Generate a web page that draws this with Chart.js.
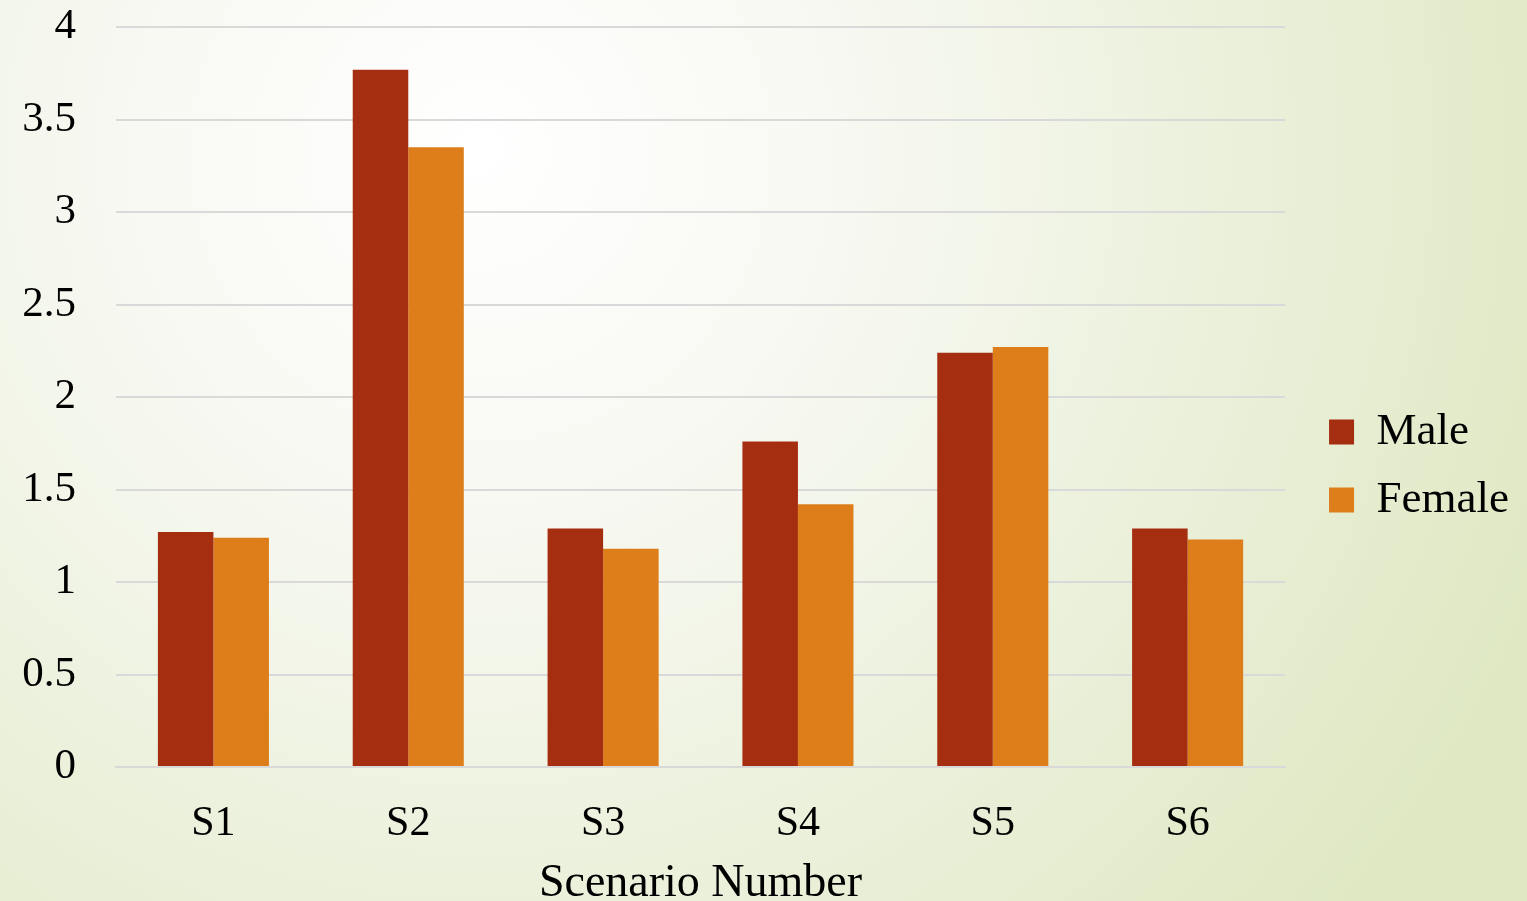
<!DOCTYPE html>
<html>
<head>
<meta charset="utf-8">
<script src="https://cdn.jsdelivr.net/npm/chart.js@4.4.0/dist/chart.umd.min.js"></script>
<style>
html,body{margin:0;padding:0;overflow:hidden;background:#fff;}
#wrap{width:1527px;height:927px;}
</style>
</head>
<body>
<div id="wrap"><canvas id="c" width="1527" height="927"></canvas></div>
<script>
const categories = ["S1","S2","S3","S4","S5","S6"];
const maleValues = [1.27, 3.77, 1.29, 1.76, 2.24, 1.29];
const femaleValues = [1.24, 3.35, 1.18, 1.42, 2.27, 1.23];
const seriesNames = ["Male","Female"];
const xTitle = "Scenario Number";

const FONT = "'Liberation Serif', 'DejaVu Serif', serif";

const bgPlugin = {
  id: 'bg',
  beforeDraw(chart){
    const ctx = chart.ctx;
    const w = chart.width, h = chart.height;
    ctx.save();
    const g = ctx.createRadialGradient(480, 150, 0, 480, 150, 1150);
    g.addColorStop(0, '#ffffff');
    g.addColorStop(0.35, '#f6f8f0');
    g.addColorStop(1, '#dfe8c3');
    ctx.fillStyle = g;
    ctx.fillRect(0,0,w,h);
    ctx.restore();
  }
};

new Chart(document.getElementById('c'), {
  type: 'bar',
  data: {
    labels: categories,
    datasets: [
      {label: seriesNames[0], data: maleValues, backgroundColor: '#a52e10', yAxisID: 'y'},
      {label: seriesNames[1], data: femaleValues, backgroundColor: '#dd7e1a', yAxisID: 'y'}
    ]
  },
  options: {
    responsive: false,
    animation: false,
    layout: {padding: {top: 5, right: 8, left: 0, bottom: 0}},
    datasets: {bar: {categoryPercentage: 0.57, barPercentage: 1.0}},
    plugins: {
      legend: {
        position: 'right',
        labels: {
          font: {family: FONT, size: 45},
          color: '#000',
          boxWidth: 25, boxHeight: 25,
          padding: 23
        }
      },
      tooltip: {enabled: false}
    },
    scales: {
      x: {
        grid: {display: false, drawTicks: false},
        border: {display: true, color: '#d9d9d9', width: 2},
        ticks: {font: {family: FONT, size: 42}, color: '#000', padding: 32},
        title: {display: true, text: xTitle, font: {family: FONT, size: 46}, color: '#000', padding: {top: 0, bottom: 15}},
        afterFit(s){ s.height = 160; }
      },
      y: {
        min: 0, max: 4,
        ticks: {stepSize: 0.5, font: {family: FONT, size: 43, lineHeight: 1.26}, color: '#000', padding: 0,
                callback: v => String(v)},
        grid: {color: '#d9d9d9', lineWidth: 2, drawTicks: true, tickLength: 40, tickColor: 'rgba(0,0,0,0)'},
        border: {display: false},
        afterFit(s){ s.width = 116; }
      },
      gap: {
        type: 'linear', position: 'right', display: true,
        grid: {display: false, drawTicks: false},
        ticks: {display: false},
        border: {display: false},
        afterFit(s){ s.width = 21; }
      }
    }
  },
  plugins: [bgPlugin]
});
</script>
</body>
</html>
